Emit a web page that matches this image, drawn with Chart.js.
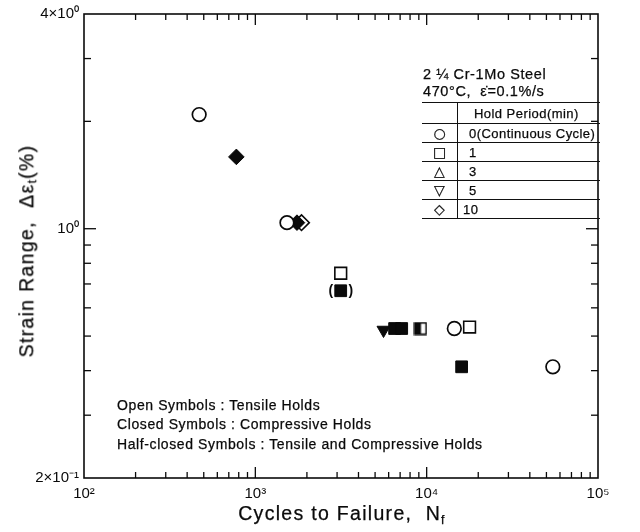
<!DOCTYPE html>
<html><head><meta charset="utf-8">
<script src="https://cdn.jsdelivr.net/npm/chart.js@4"></script>
<style>
html,body{margin:0;padding:0;background:#fff;}
#wrap{position:relative;width:640px;height:532px;font-family:"Liberation Sans",Arial,sans-serif;color:#0a0a0a;overflow:hidden;}
#c{position:absolute;left:0;top:0;}
.t{position:absolute;white-space:nowrap;line-height:1;-webkit-text-stroke:0.25px #0a0a0a;}
#legtab{position:absolute;left:422px;top:102px;width:178px;border-collapse:collapse;font-size:13px;letter-spacing:0.45px;-webkit-text-stroke:0.25px #0a0a0a;}
#legtab td{border-top:1px solid #111;border-bottom:1px solid #111;padding:0;height:18px;}
#legtab tr:first-child td{height:20px;}
#legtab td.s{width:35px;border-right:1px solid #111;text-align:center;font-family:"DejaVu Sans",sans-serif;font-size:14px;letter-spacing:0;}
#legtab td.l{padding-left:11px;}
.ann{font-size:14px;letter-spacing:0.6px;}
sub{font-size:62%;vertical-align:-0.28em;}
</style></head><body>
<div id="wrap">
<canvas id="c" width="640" height="532"></canvas>
<div class="t" id="ytitle" style="left:28px;top:251px;font-size:19.5px;letter-spacing:1.3px;transform:translate(-50%,-50%) rotate(-90deg);">Strain Range,&nbsp; Δε<sub>t</sub>(%)</div>
<div class="t" id="xtitle" style="left:342px;top:515px;font-size:19.5px;letter-spacing:1.3px;transform:translate(-50%,-50%);">Cycles to Failure,&nbsp; N<sub>f</sub></div>
<div class="t" style="left:423px;top:67px;font-size:14.5px;letter-spacing:0.6px;">2 ¼ Cr-1Mo Steel</div>
<div class="t" style="left:423px;top:84px;font-size:14.5px;letter-spacing:0.6px;">470°C,&nbsp; ε̇=0.1%/s</div>
<table id="legtab">
<tr><td class="s"></td><td class="l" style="padding-left:16px;">Hold Period(min)</td></tr>
<tr><td class="s">○</td><td class="l">0(Continuous Cycle)</td></tr>
<tr><td class="s">□</td><td class="l">1</td></tr>
<tr><td class="s">△</td><td class="l">3</td></tr>
<tr><td class="s">▽</td><td class="l">5</td></tr>
<tr><td class="s">◇</td><td class="l" style="padding-left:5px;">10</td></tr>
</table>
<div class="t ann" style="left:117px;top:398px;">Open Symbols : Tensile Holds</div>
<div class="t ann" style="left:117px;top:417px;">Closed Symbols : Compressive Holds</div>
<div class="t ann" style="left:117px;top:437px;">Half-closed Symbols : Tensile and Compressive Holds</div>
</div>
<script>
// ---- data ----
const openCircleN = [470, 1530, 14500, 54500];
const openCircleE = [2.09, 1.04, 0.525, 0.41];
const openSquareN = [3150, 17800];
const openSquareE = [0.75, 0.53];
const closedSquareN = [3150, 6500, 7150, 16000];
const closedSquareE = [0.67, 0.525, 0.525, 0.41];
const halfSquareN = [9200];
const halfSquareE = [0.525];
const closedDownTriN = [5600];
const closedDownTriE = [0.52];
const closedDiamondN = [775, 1750];
const closedDiamondE = [1.59, 1.04];
const openDiamondN = [1860];
const openDiamondE = [1.04];
const bracketedIndex = 0; // closed square shown in parentheses

const xTickVals = [100, 1000, 10000, 100000];
const xTickLabels = ['10²', '10³', '10⁴', '10⁵'];
const yTickVals = [0.2, 1, 4];
const yTickLabels = ['2×10⁻¹', '10⁰', '4×10⁰'];
const xMinor = [200,300,400,500,600,700,800,900,2000,3000,4000,5000,6000,7000,8000,9000,20000,30000,40000,50000,60000,70000,80000,90000];
const xMajor = [1000, 10000];
const yMinor = [0.3,0.4,0.5,0.6,0.7,0.8,0.9,2,3];
const yMajor = [1];

const pts = (n, e) => n.map((v, i) => ({x: v, y: e[i]}));
const INK = '#0a0a0a';

const half = document.createElement('canvas');
half.width = 14; half.height = 14;
(function(){
  const g = half.getContext('2d');
  g.fillStyle = INK; g.fillRect(1, 1, 6.5, 12);
  g.strokeStyle = INK; g.lineWidth = 1.7; g.strokeRect(1.3, 1.3, 11.4, 11.4);
})();

const fam = '"Liberation Sans", Arial, sans-serif';

const framePlugin = {
  id: 'frame',
  beforeDatasetsDraw(chart) {
    const {ctx, chartArea: a, scales: {x, y}} = chart;
    ctx.save();
    ctx.strokeStyle = INK; ctx.lineWidth = 1.6;
    ctx.strokeRect(a.left, a.top, a.right - a.left, a.bottom - a.top);
    ctx.lineWidth = 1.3;
    const tick = (x1, y1, x2, y2) => { ctx.beginPath(); ctx.moveTo(x1, y1); ctx.lineTo(x2, y2); ctx.stroke(); };
    const xs = xMinor.map(v => [v, 6]).concat(xMajor.map(v => [v, 11]));
    xs.forEach(([v, L]) => { const p = x.getPixelForValue(v); tick(p, a.bottom, p, a.bottom - L); tick(p, a.top, p, a.top + L); });
    const ys = yMinor.map(v => [v, 7]).concat(yMajor.map(v => [v, 12]));
    ys.forEach(([v, L]) => { const p = y.getPixelForValue(v); tick(a.left, p, a.left + L, p); tick(a.right, p, a.right - L, p); });
    ctx.restore();
  },
  afterDatasetsDraw(chart) {
    const meta = chart.getDatasetMeta(2);
    const el = meta.data[bracketedIndex];
    if (!el) return;
    const ctx = chart.ctx;
    ctx.save();
    ctx.fillStyle = INK; ctx.font = 'bold 14px ' + fam;
    ctx.textAlign = 'center'; ctx.textBaseline = 'middle';
    ctx.fillText('(', el.x - 10, el.y);
    ctx.fillText(')', el.x + 10, el.y);
    ctx.restore();
  }
};

new Chart(document.getElementById('c'), {
  type: 'scatter',
  data: {
    datasets: [
      {label: '0 open', data: pts(openCircleN, openCircleE), pointStyle: 'circle', pointRadius: 6.8, backgroundColor: '#fff', borderColor: INK, borderWidth: 1.7},
      {label: '1 open', data: pts(openSquareN, openSquareE), pointStyle: 'rect', pointRadius: 8.3, backgroundColor: '#fff', borderColor: INK, borderWidth: 1.6},
      {label: '1 closed', data: pts(closedSquareN, closedSquareE), pointStyle: 'rect', pointRadius: 8.3, backgroundColor: INK, borderColor: INK, borderWidth: 1},
      {label: '1 half', data: pts(halfSquareN, halfSquareE), pointStyle: half, pointRadius: 7},
      {label: '5 closed', data: pts(closedDownTriN, closedDownTriE), pointStyle: 'triangle', rotation: 180, pointRadius: 7.5, backgroundColor: INK, borderColor: INK, borderWidth: 1},
      {label: '10 closed', data: pts(closedDiamondN, closedDiamondE), pointStyle: 'rectRot', pointRadius: 7.8, backgroundColor: INK, borderColor: INK, borderWidth: 1},
      {label: '10 open', data: pts(openDiamondN, openDiamondE), pointStyle: 'rectRot', pointRadius: 7.8, backgroundColor: 'rgba(0,0,0,0)', borderColor: INK, borderWidth: 1.6}
    ]
  },
  options: {
    responsive: false, animation: false, devicePixelRatio: 1,
    layout: {padding: {left: 0, right: 42, top: 13, bottom: 0}},
    plugins: {legend: {display: false}, tooltip: {enabled: false}},
    scales: {
      x: {
        type: 'logarithmic', min: 100, max: 100000,
        afterBuildTicks: s => { s.ticks = xTickVals.map(v => ({value: v})); },
        afterFit: s => { s.height = 54; },
        grid: {display: false, drawTicks: false}, border: {display: false},
        ticks: {autoSkip: false, maxRotation: 0, padding: 7, color: INK, font: {size: 15, family: fam},
          callback: v => xTickLabels[xTickVals.indexOf(v)]}
      },
      y: {
        type: 'logarithmic', min: 0.2, max: 4,
        afterBuildTicks: s => { s.ticks = yTickVals.map(v => ({value: v})); },
        afterFit: s => { s.width = 84; },
        grid: {display: false, drawTicks: false}, border: {display: false},
        ticks: {autoSkip: false, padding: 5, color: INK, font: {size: 15, family: fam},
          callback: v => yTickLabels[yTickVals.indexOf(v)]}
      }
    }
  },
  plugins: [framePlugin]
});
</script>
</body></html>
